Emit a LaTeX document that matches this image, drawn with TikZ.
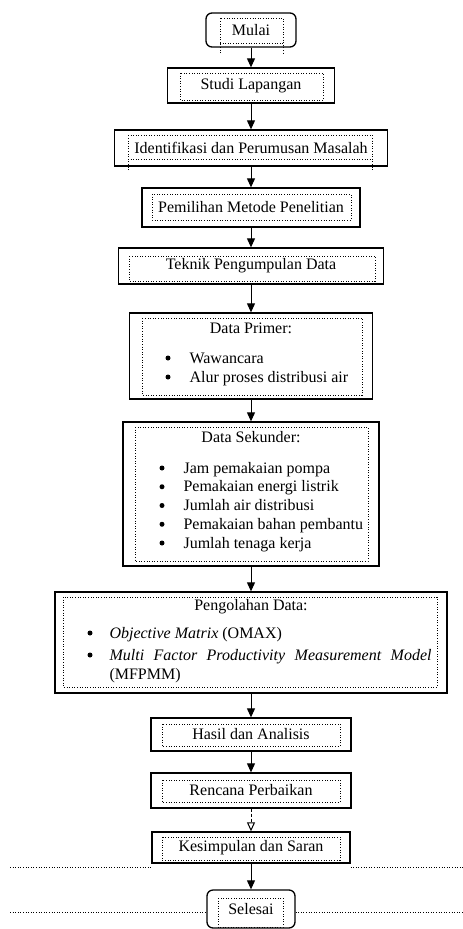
\documentclass[tikz,border=0pt]{standalone}
\usepackage{fontspec}
\setmainfont{Liberation Serif}
\usetikzlibrary{positioning,arrows.meta}

\tikzset{
  kotak/.style={draw, line width=1.3pt, inner sep=0pt},
  bulat/.style={kotak, rounded corners=6pt},
  bingkai/.style={line width=1pt, dash pattern=on 0.9pt off 1.7pt},
  panah/.style={-{Triangle[length=9pt,width=8pt]}, line width=1pt},
  butir/.style={circle, fill, inner sep=0pt, minimum size=5pt},
  isi/.style={anchor=base west},
}

\begin{document}
\begin{tikzpicture}[x=1pt,y=-1pt,font=\fontsize{16}{19.5}\selectfont]
\useasboundingbox (0,0) rectangle (463,929);

% kotak-kotak alur
\node[bulat, minimum width=90, minimum height=34] (mulai) at (251,30) {Mulai};
\node[kotak, minimum width=167, minimum height=35] (studi) at (251,85.5) {Studi Lapangan};
\node[kotak, minimum width=273, minimum height=36] (identifikasi) at (251,148) {Identifikasi dan Perumusan Masalah};
\node[kotak, minimum width=218, minimum height=39] (pemilihan) at (251,207.5) {Pemilihan Metode Penelitian};
\node[kotak, minimum width=265, minimum height=36] (teknik) at (251,266) {Teknik Pengumpulan Data};
\node[kotak, minimum width=243, minimum height=86] (primer) at (251,356) {};
\node[kotak, minimum width=256, minimum height=144] (sekunder) at (251,494) {};
\node[kotak, minimum width=392, minimum height=101] (olah) at (251,642.5) {};
\node[kotak, minimum width=200, minimum height=33] (hasil) at (251,734.5) {Hasil dan Analisis};
\node[kotak, minimum width=200, minimum height=35] (rencana) at (251,790.5) {Rencana Perbaikan};
\node[kotak, minimum width=198, minimum height=31] (simpul) at (251,847.5) {Kesimpulan dan Saran};
\node[bulat, minimum width=88, minimum height=38] (selesai) at (251,909) {Selesai};

% isi data primer
\node (primerjudul) at (251,328) {Data Primer:};
\node[butir] (pb1) at (168,358) {};
\node[isi] (pt1) at (186,363) {Wawancara};
\node[butir] (pb2) at (168,377) {};
\node[isi] (pt2) at (186,382) {Alur proses distribusi air};

% isi data sekunder
\node (sekjudul) at (251,437) {Data Sekunder:};
\foreach \teks [count=\i] in {Jam pemakaian pompa,Pemakaian energi listrik,Jumlah air distribusi,Pemakaian bahan pembantu,Jumlah tenaga kerja}{
  \node[butir] (sb\i) at (162,{449.25+18.75*\i}) {};
  \node[isi] (st\i) at (180,{454.25+18.75*\i}) {\teks};
}

% isi pengolahan data
\node (olahjudul) at (251,607) {Pengolahan Data:};
\node[butir] (ob1) at (90,633) {};
\node[isi] (ot1) at (106,638) {\textit{Objective Matrix} (OMAX)};
\node[butir] (ob2) at (90,655) {};
\node[isi] (ot2) at (106,660) {\makebox[322pt][s]{\itshape Multi Factor Productivity Measurement Model}};
\node[isi] (ot3) at (106,679) {(MFPMM)};

% bingkai titik-titik
\draw[bingkai] (220,53)--(220,18)--(283,18)--(283,53) (220,43)--(283,43);
\draw[bingkai] (180,73) rectangle (323,100);
\draw[bingkai] (128,135)--(372,135)--(372,170) (128,170)--(128,135) (128,159)--(372,159);
\draw[bingkai] (152,194) rectangle (351,220);
\draw[bingkai] (129,256) rectangle (375,281);
\draw[bingkai] (142,318) rectangle (362,395);
\draw[bingkai] (135,427) rectangle (368,561);
\draw[bingkai] (63,597) rectangle (437,687);
\draw[bingkai] (162,724) rectangle (340,746);
\draw[bingkai] (162,780) rectangle (340,802);
\draw[bingkai] (162,837) rectangle (340,860);
\draw[bingkai] (218,898) rectangle (283,927);

% garis halaman
\draw[bingkai] (10,867)--(simpul.south west |- 0,867) (simpul.south east |- 0,867)--(463,867);
\draw[bingkai] (10,912)--(selesai.west |- 0,912) (selesai.east |- 0,912)--(463,912);

% panah
\draw[panah] (mulai) -- (studi);
\draw[panah] (studi) -- (identifikasi);
\draw[panah] (identifikasi) -- (pemilihan);
\draw[panah] (pemilihan) -- (teknik);
\draw[panah] (teknik) -- (primer);
\draw[panah] (primer) -- (sekunder);
\draw[panah] (sekunder) -- (olah);
\draw[panah] (olah) -- (hasil);
\draw[panah] (hasil) -- (rencana);
\draw[-{Triangle[open,length=9pt,width=8pt]}, line width=1pt, densely dashed] (rencana) -- (simpul);
\draw[panah] (simpul) -- (selesai);
\end{tikzpicture}
\end{document}
